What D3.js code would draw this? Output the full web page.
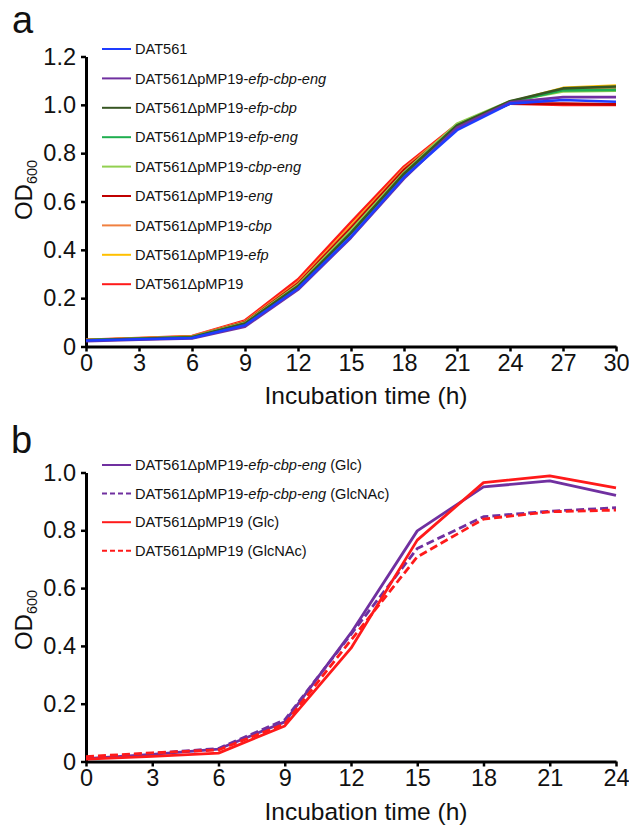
<!DOCTYPE html>
<html>
<head>
<meta charset="utf-8">
<script src="https://cdn.jsdelivr.net/npm/d3@7"></script>
<style>
  body { margin: 0; background: #fff; }
  svg { display: block; font-family: "Liberation Sans", Arial, Helvetica, sans-serif; }
</style>
</head>
<body>
<script>
"use strict";

const width = 629;
const height = 825;

// panel a: growth of all strains, 0-30 h
const timesA = [0, 3, 6, 9, 12, 15, 18, 21, 24, 27, 30];
const strainsA = [
  "DAT561",
  "DAT561ΔpMP19-efp-cbp-eng",
  "DAT561ΔpMP19-efp-cbp",
  "DAT561ΔpMP19-efp-eng",
  "DAT561ΔpMP19-cbp-eng",
  "DAT561ΔpMP19-eng",
  "DAT561ΔpMP19-cbp",
  "DAT561ΔpMP19-efp",
  "DAT561ΔpMP19"
];
const colorsA = ["#1e3cff", "#7030a0", "#375623", "#1fae4f", "#92d050", "#c00000", "#f08040", "#ffc000", "#ff1a1a"];
const valuesA = [
  [0.025, 0.030, 0.035, 0.088, 0.240, 0.455, 0.700, 0.895, 1.005, 1.020, 1.013],
  [0.022, 0.028, 0.033, 0.082, 0.235, 0.450, 0.695, 0.905, 1.010, 1.032, 1.032],
  [0.026, 0.032, 0.038, 0.095, 0.250, 0.470, 0.715, 0.915, 1.015, 1.068, 1.076],
  [0.026, 0.032, 0.038, 0.094, 0.248, 0.470, 0.710, 0.915, 1.012, 1.060, 1.062],
  [0.027, 0.033, 0.040, 0.098, 0.255, 0.480, 0.720, 0.922, 1.015, 1.055, 1.058],
  [0.027, 0.033, 0.040, 0.100, 0.260, 0.490, 0.730, 0.910, 1.005, 1.005, 1.002],
  [0.027, 0.034, 0.041, 0.102, 0.265, 0.495, 0.735, 0.915, 1.010, 1.063, 1.068],
  [0.027, 0.034, 0.041, 0.102, 0.266, 0.500, 0.735, 0.915, 1.012, 1.070, 1.080],
  [0.028, 0.035, 0.043, 0.108, 0.278, 0.515, 0.745, 0.920, 1.005, 1.000, 1.000]
];
const ticksYA = [0, 0.2, 0.4, 0.6, 0.8, 1.0, 1.2];
const ticksXA = [0, 3, 6, 9, 12, 15, 18, 21, 24, 27, 30];

// panel b: Glc vs GlcNAc, 0-24 h
const timesB = [0, 3, 6, 9, 12, 15, 18, 21, 24];
const seriesB = [
  ["DAT561ΔpMP19-", "efp-cbp-eng", " (Glc)"],
  ["DAT561ΔpMP19-", "efp-cbp-eng", " (GlcNAc)"],
  ["DAT561ΔpMP19 (Glc)", "", ""],
  ["DAT561ΔpMP19 (GlcNAc)", "", ""]
];
const colorsB = ["#7030a0", "#7030a0", "#ff1a1a", "#ff1a1a"];
const dashedB = [false, true, false, true];
const valuesB = [
  [0.010, 0.025, 0.043, 0.137, 0.445, 0.798, 0.950, 0.971, 0.921],
  [0.012, 0.028, 0.045, 0.144, 0.440, 0.737, 0.847, 0.866, 0.878],
  [0.008, 0.018, 0.029, 0.123, 0.392, 0.766, 0.965, 0.988, 0.947],
  [0.017, 0.030, 0.040, 0.130, 0.420, 0.708, 0.839, 0.864, 0.870]
];
const ticksYB = [0, 0.2, 0.4, 0.6, 0.8, 1.0];
const ticksXB = [0, 3, 6, 9, 12, 15, 18, 21, 24];

const svg = d3.select("body").append("svg")
  .attr("width", width)
  .attr("height", height);

const fmt = d => d === 0 ? "0" : d3.format(".1f")(d);

function drawAxes(g, x, y, ticksX, ticksY) {
  const ax = g.append("g")
    .attr("transform", `translate(0,${y.range()[0]})`)
    .call(d3.axisBottom(x).tickValues(ticksX).tickSize(5).tickPadding(3).tickSizeOuter(0));
  const ay = g.append("g")
    .attr("transform", `translate(${x.range()[0]},0)`)
    .call(d3.axisLeft(y).tickValues(ticksY).tickFormat(fmt).tickSize(5).tickPadding(5).tickSizeOuter(0));
  [ax, ay].forEach(a => {
    a.select(".domain").attr("stroke", "#000").attr("stroke-width", 3);
    a.selectAll(".tick line").attr("stroke", "#000").attr("stroke-width", 2.5);
    a.selectAll(".tick text")
      .attr("fill", "#111")
      .style("font-size", "23.5px")
      .style("font-family", "'Liberation Sans', Arial, sans-serif");
  });
}

function yTitle(g, cx, cy) {
  const t = g.append("text")
    .attr("transform", `translate(${cx},${cy}) rotate(-90)`)
    .attr("text-anchor", "middle")
    .attr("fill", "#111")
    .style("font-size", "24px");
  t.append("tspan").text("OD");
  t.append("tspan").attr("dy", 5).style("font-size", "14.5px").text("600");
}

function xTitle(g, cx, by) {
  g.append("text")
    .attr("x", cx).attr("y", by)
    .attr("text-anchor", "middle")
    .attr("fill", "#111")
    .style("font-size", "24.5px")
    .text("Incubation time (h)");
}

// ---------- panel a ----------
const ga = svg.append("g");
const xa = d3.scaleLinear().domain([0, 30]).range([86, 616]);
const ya = d3.scaleLinear().domain([0, 1.2]).range([346.5, 56.5]);

ga.append("text").attr("x", 12).attr("y", 33)
  .style("font-size", "38px").attr("fill", "#111").text("a");

drawAxes(ga, xa, ya, ticksXA, ticksYA);
yTitle(ga, 32, 190);
xTitle(ga, 366, 404);

const lineA = d3.line().x((d, i) => xa(timesA[i])).y(d => ya(d));
const orderA = d3.range(strainsA.length).reverse();
ga.selectAll(".series")
  .data(orderA)
  .enter()
  .append("path")
  .attr("class", "series")
  .attr("d", i => lineA(valuesA[i]))
  .attr("fill", "none")
  .attr("stroke", i => colorsA[i])
  .attr("stroke-width", 2.6)
  .attr("stroke-linejoin", "round");

const legA = ga.selectAll(".leg")
  .data(strainsA)
  .enter()
  .append("g")
  .attr("class", "leg")
  .attr("transform", (d, i) => `translate(102,${49 + i * 29.4})`);
legA.append("line")
  .attr("x1", 0).attr("x2", 29)
  .attr("stroke", (d, i) => colorsA[i])
  .attr("stroke-width", 2);
legA.append("text")
  .attr("x", 33).attr("dy", "0.36em")
  .style("font-size", "14.6px")
  .attr("fill", "#111")
  .each(function (d) {
    const t = d3.select(this);
    const k = d.indexOf("-");
    if (k < 0) { t.text(d); return; }
    t.append("tspan").text(d.slice(0, k + 1));
    t.append("tspan").style("font-style", "italic").text(d.slice(k + 1));
  });

// ---------- panel b ----------
const gb = svg.append("g");
const xb = d3.scaleLinear().domain([0, 24]).range([86, 616]);
const yb = d3.scaleLinear().domain([0, 1]).range([761.5, 472.5]);

gb.append("text").attr("x", 11).attr("y", 453)
  .style("font-size", "38px").attr("fill", "#111").text("b");

drawAxes(gb, xb, yb, ticksXB, ticksYB);
yTitle(gb, 32, 620);
xTitle(gb, 366, 820);

const lineB = d3.line().x((d, i) => xb(timesB[i])).y(d => yb(d));
gb.selectAll(".series")
  .data(valuesB)
  .enter()
  .append("path")
  .attr("class", "series")
  .attr("d", d => lineB(d))
  .attr("fill", "none")
  .attr("stroke", (d, i) => colorsB[i])
  .attr("stroke-width", 2.8)
  .attr("stroke-dasharray", (d, i) => dashedB[i] ? "8,4" : null)
  .attr("stroke-linejoin", "round");

const legB = gb.selectAll(".leg")
  .data(seriesB)
  .enter()
  .append("g")
  .attr("class", "leg")
  .attr("transform", (d, i) => `translate(102,${465 + i * 28.6})`);
legB.append("line")
  .attr("x1", 0).attr("x2", 29)
  .attr("stroke", (d, i) => colorsB[i])
  .attr("stroke-width", 2)
  .attr("stroke-dasharray", (d, i) => dashedB[i] ? "5,3" : null);
const tb = legB.append("text")
  .attr("x", 33).attr("dy", "0.36em")
  .style("font-size", "14.6px")
  .attr("fill", "#111");
tb.append("tspan").text(d => d[0]);
tb.append("tspan").style("font-style", "italic").text(d => d[1]);
tb.append("tspan").text(d => d[2]);
</script>
</body>
</html>
